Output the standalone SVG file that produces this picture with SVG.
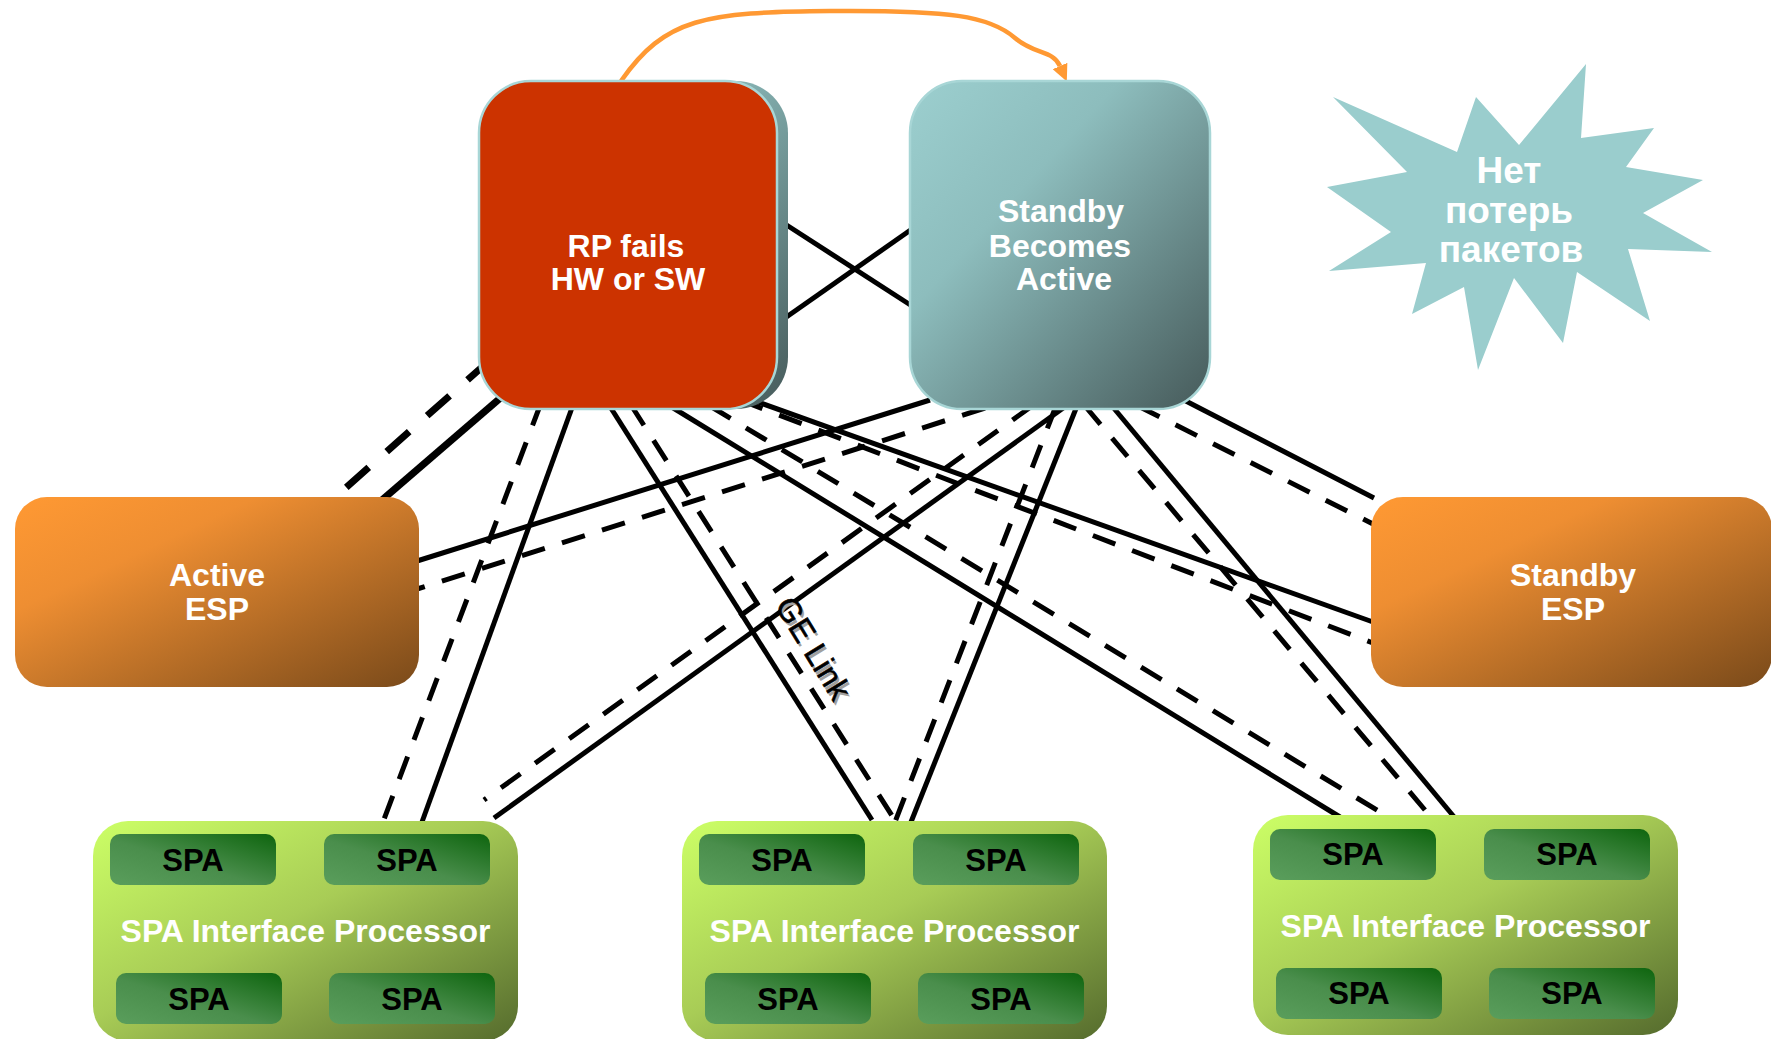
<svg xmlns="http://www.w3.org/2000/svg" width="1771" height="1039" viewBox="0 0 1771 1039">
<defs>
<linearGradient id="tealG" x1="0" y1="0" x2="1" y2="1">
<stop offset="0" stop-color="#9CCFCF"/><stop offset="0.35" stop-color="#8DBDBD"/><stop offset="1" stop-color="#465A5A"/>
</linearGradient>
<linearGradient id="espG" x1="0" y1="0" x2="1" y2="1">
<stop offset="0" stop-color="#FF9933"/><stop offset="0.3" stop-color="#EE8E32"/><stop offset="1" stop-color="#7A4A1A"/>
</linearGradient>
<linearGradient id="sipG" x1="0" y1="0" x2="1" y2="1">
<stop offset="0" stop-color="#CCFF66"/><stop offset="0.45" stop-color="#A8CC56"/><stop offset="1" stop-color="#556B2D"/>
</linearGradient>
<linearGradient id="spaG" x1="0" y1="1" x2="1" y2="0">
<stop offset="0" stop-color="#5A9E5C"/><stop offset="0.45" stop-color="#4A8E4C"/><stop offset="1" stop-color="#0E650E"/>
</linearGradient>
<marker id="oa" markerWidth="18" markerHeight="16" refX="0" refY="8" orient="auto" markerUnits="userSpaceOnUse">
<path d="M0,0 L17,8 L0,16 z" fill="#FF9933"/>
</marker>
</defs>
<style>
.c{fill:none;stroke:#000;stroke-width:5}
.d{stroke-dasharray:24 18}
.h{stroke-width:7}
.hd{stroke-dasharray:30 24}
.t{font-family:"Liberation Sans",Arial,sans-serif;font-weight:bold;text-anchor:middle}
.big{font-size:32px;fill:#fff}
.spa{fill:url(#spaG)}
.spat{font-size:31px;fill:#000}
.sipt{font-size:32px;fill:#fff}
.rp{stroke:#A8D6D6;stroke-width:2.5}
.ge{font-family:"Liberation Sans",Arial,sans-serif;font-size:32px;text-anchor:middle}
</style>

<g id="connectors">
<line class="c h hd" x1="490" y1="360" x2="332" y2="500"/>
<line class="c h" x1="505" y1="394" x2="382" y2="500"/>
<line class="c d" x1="541" y1="403" x2="383" y2="822"/>
<line class="c" x1="573" y1="405" x2="422" y2="822"/>
<line class="c" x1="609" y1="405" x2="872" y2="820"/>
<line class="c d" x1="631" y1="405" x2="896" y2="822"/>
<line class="c" x1="670" y1="406" x2="1340" y2="817"/>
<line class="c d" x1="710" y1="406" x2="1390" y2="818"/>
<line class="c" x1="755" y1="401" x2="1373" y2="622"/>
<line class="c d" x1="740" y1="400" x2="1373" y2="643"/>
<line class="c" x1="785" y1="224" x2="912" y2="306"/>
<line class="c" x1="785" y1="318" x2="912" y2="229"/>
<line class="c" x1="930" y1="400" x2="417" y2="561"/>
<line class="c d" x1="985" y1="408" x2="417" y2="589"/>
<line class="c" x1="1066" y1="406" x2="494" y2="818"/>
<line class="c d" x1="1032" y1="406" x2="484" y2="800"/>
<line class="c" x1="1077" y1="406" x2="911" y2="822"/>
<line class="c d" x1="1056" y1="406" x2="895" y2="822"/>
<line class="c" x1="1112" y1="406" x2="1455" y2="818"/>
<line class="c d" x1="1085" y1="406" x2="1430" y2="816"/>
<line class="c" x1="1180" y1="398" x2="1374" y2="498"/>
<line class="c d" x1="1138" y1="406" x2="1373" y2="524"/>
<path d="M 621 81 C 665 18, 705 12, 830 11 C 950 10, 990 16, 1015 38 C 1035 55, 1053 50, 1060 66" fill="none" stroke="#FF9933" stroke-width="4.5" marker-end="url(#oa)"/>
<g transform="translate(806,657) rotate(58.6)"><text class="ge" x="0" y="0" fill="#A0A0A0">GE Link</text></g>
<g transform="translate(804,654) rotate(58.6)"><text class="ge" x="0" y="0" fill="#000" stroke="#000" stroke-width="0.6">GE Link</text></g>
</g>

<g id="rp-failed">
<rect x="490" y="81" width="298" height="328" rx="52" fill="url(#tealG)"/>
<rect class="rp" x="479" y="81" width="298" height="328" rx="52" fill="#CC3300"/>
<text class="t big" x="626" y="257">RP fails</text>
<text class="t big" x="628" y="290">HW or SW</text>
</g>

<g id="rp-standby">
<rect class="rp" x="910" y="81" width="300" height="328" rx="52" fill="url(#tealG)"/>
<text class="t big" x="1061" y="222">Standby</text>
<text class="t big" x="1060" y="257">Becomes</text>
<text class="t big" x="1064" y="290">Active</text>
</g>

<g id="no-loss">
<polygon fill="#9ACDCD" points="1333,97 1457,152 1476,97 1519,145 1586,64 1581,138 1654,128 1626,167 1703,180 1643,213 1712,252 1628,249 1650,321 1577,272 1563,343 1514,278 1478,370 1464,287 1412,314 1426,263 1329,271 1391,232 1327,187 1407,172"/>
<text class="t" x="1509" y="183" font-size="37" fill="#fff">Нет</text>
<text class="t" x="1509" y="223" font-size="37" fill="#fff">потерь</text>
<text class="t" x="1511" y="262" font-size="37" fill="#fff">пакетов</text>
</g>

<g id="active-esp">
<rect x="15" y="497" width="404" height="190" rx="32" fill="url(#espG)"/>
<text class="t big" x="217" y="586">Active</text>
<text class="t big" x="217" y="620">ESP</text>
</g>

<g id="standby-esp">
<rect x="1371" y="497" width="401" height="190" rx="32" fill="url(#espG)"/>
<text class="t big" x="1573" y="586">Standby</text>
<text class="t big" x="1573" y="620">ESP</text>
</g>

<g id="sip1" transform="translate(93,821)">
<rect x="0" y="0" width="425" height="220" rx="35" fill="url(#sipG)"/>
<rect class="spa" x="17" y="13" width="166" height="51" rx="10"/>
<rect class="spa" x="231" y="13" width="166" height="51" rx="10"/>
<rect class="spa" x="23" y="152" width="166" height="51" rx="10"/>
<rect class="spa" x="236" y="152" width="166" height="51" rx="10"/>
<text class="t spat" x="100" y="50">SPA</text>
<text class="t spat" x="314" y="50">SPA</text>
<text class="t spat" x="106" y="189">SPA</text>
<text class="t spat" x="319" y="189">SPA</text>
<text class="t sipt" x="212.5" y="121">SPA Interface Processor</text>
</g>

<g id="sip2" transform="translate(682,821)">
<rect x="0" y="0" width="425" height="220" rx="35" fill="url(#sipG)"/>
<rect class="spa" x="17" y="13" width="166" height="51" rx="10"/>
<rect class="spa" x="231" y="13" width="166" height="51" rx="10"/>
<rect class="spa" x="23" y="152" width="166" height="51" rx="10"/>
<rect class="spa" x="236" y="152" width="166" height="51" rx="10"/>
<text class="t spat" x="100" y="50">SPA</text>
<text class="t spat" x="314" y="50">SPA</text>
<text class="t spat" x="106" y="189">SPA</text>
<text class="t spat" x="319" y="189">SPA</text>
<text class="t sipt" x="212.5" y="121">SPA Interface Processor</text>
</g>

<g id="sip3" transform="translate(1253,815)">
<rect x="0" y="0" width="425" height="220" rx="35" fill="url(#sipG)"/>
<rect class="spa" x="17" y="14" width="166" height="51" rx="10"/>
<rect class="spa" x="231" y="14" width="166" height="51" rx="10"/>
<rect class="spa" x="23" y="153" width="166" height="51" rx="10"/>
<rect class="spa" x="236" y="153" width="166" height="51" rx="10"/>
<text class="t spat" x="100" y="50">SPA</text>
<text class="t spat" x="314" y="50">SPA</text>
<text class="t spat" x="106" y="189">SPA</text>
<text class="t spat" x="319" y="189">SPA</text>
<text class="t sipt" x="212.5" y="122">SPA Interface Processor</text>
</g>
</svg>
